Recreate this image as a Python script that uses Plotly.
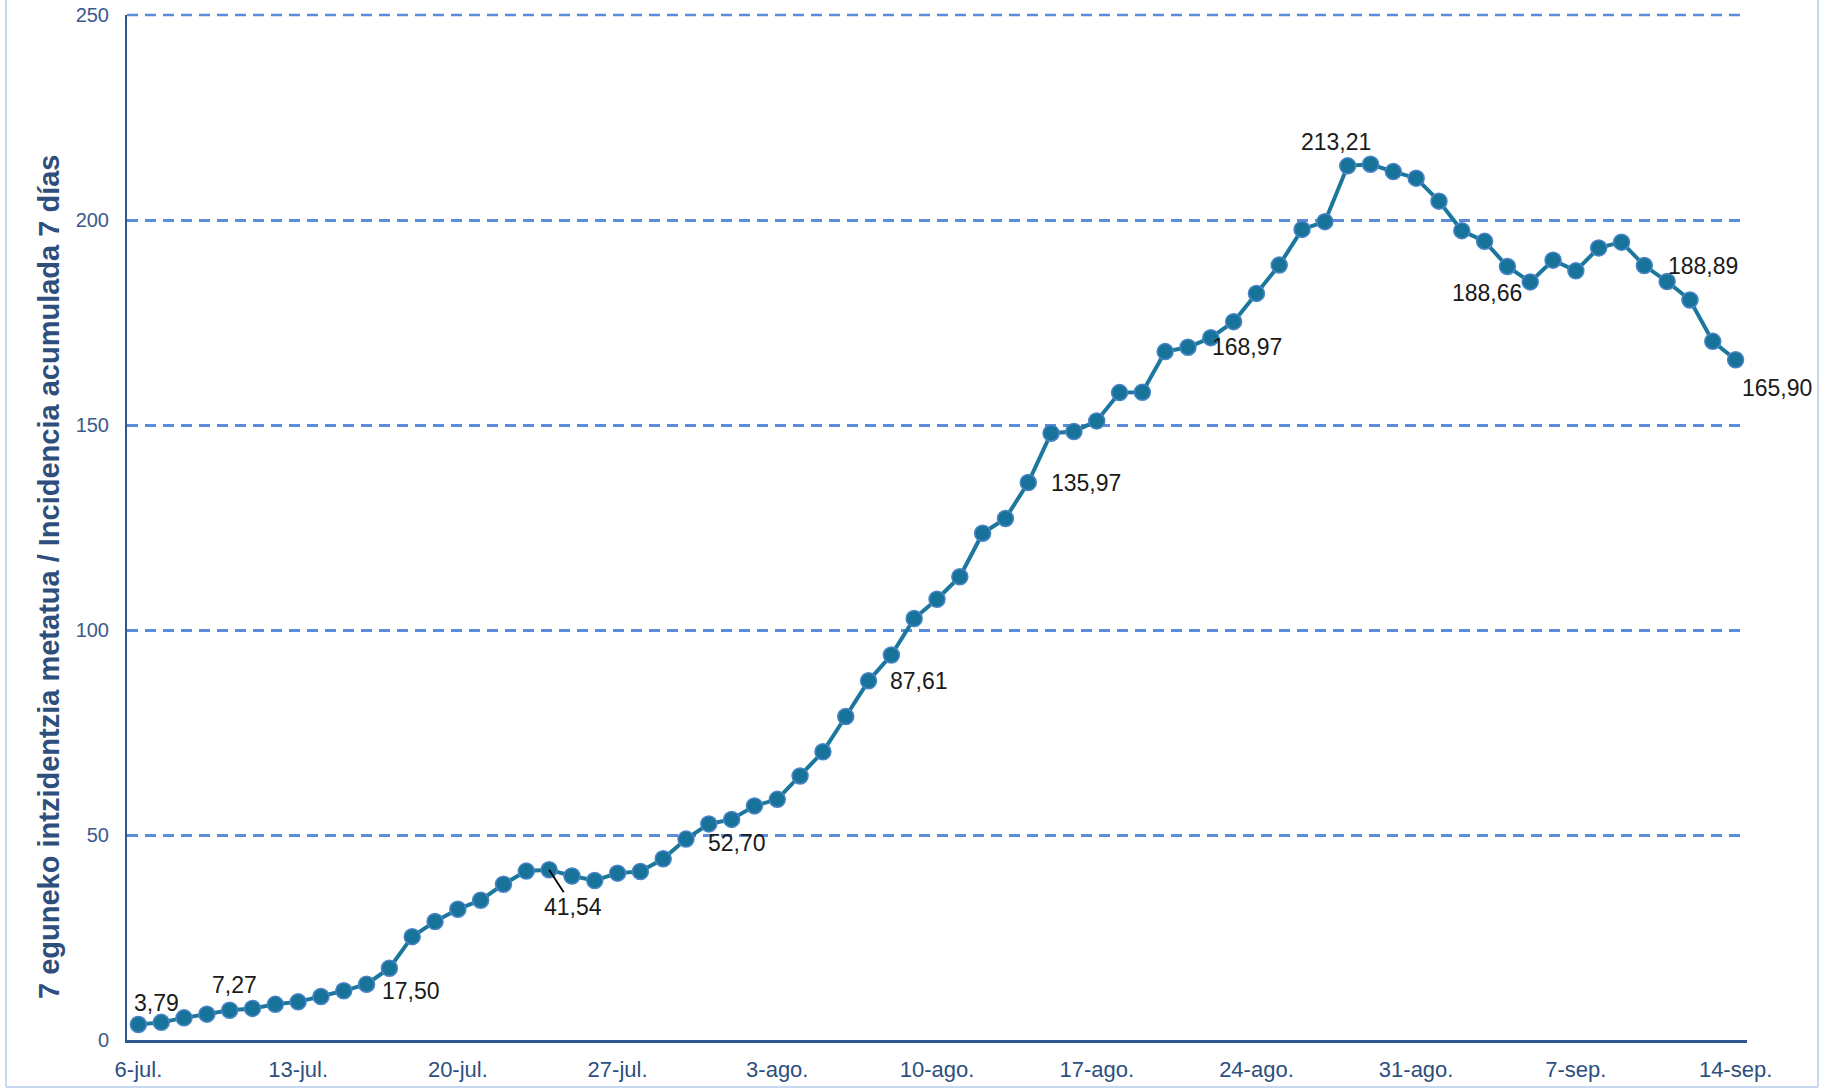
import plotly.graph_objects as go

dates = ["6-jul.", "7-jul.", "8-jul.", "9-jul.", "10-jul.", "11-jul.", "12-jul.",
         "13-jul.", "14-jul.", "15-jul.", "16-jul.", "17-jul.", "18-jul.", "19-jul.",
         "20-jul.", "21-jul.", "22-jul.", "23-jul.", "24-jul.", "25-jul.", "26-jul.",
         "27-jul.", "28-jul.", "29-jul.", "30-jul.", "31-jul.", "1-ago.", "2-ago.",
         "3-ago.", "4-ago.", "5-ago.", "6-ago.", "7-ago.", "8-ago.", "9-ago.",
         "10-ago.", "11-ago.", "12-ago.", "13-ago.", "14-ago.", "15-ago.", "16-ago.",
         "17-ago.", "18-ago.", "19-ago.", "20-ago.", "21-ago.", "22-ago.", "23-ago.",
         "24-ago.", "25-ago.", "26-ago.", "27-ago.", "28-ago.", "29-ago.", "30-ago.",
         "31-ago.", "1-sep.", "2-sep.", "3-sep.", "4-sep.", "5-sep.", "6-sep.",
         "7-sep.", "8-sep.", "9-sep.", "10-sep.", "11-sep.", "12-sep.", "13-sep.",
         "14-sep."]

incidence = [3.79, 4.3, 5.4, 6.3, 7.27, 7.7, 8.7,
             9.3, 10.6, 12.0, 13.6, 17.50, 25.2, 28.9,
             31.9, 34.1, 38.0, 41.2, 41.54, 40.0, 38.9,
             40.7, 41.1, 44.2, 49.0, 52.70, 53.8, 57.1,
             58.7, 64.4, 70.3, 78.9, 87.61, 93.9, 102.8,
             107.5, 113.0, 123.6, 127.2, 135.97, 148.0, 148.4,
             151.0, 157.9, 158.0, 167.9, 168.97, 171.3, 175.2,
             182.1, 189.0, 197.7, 199.6, 213.21, 213.6, 211.8,
             210.2, 204.6, 197.4, 194.8, 188.66, 184.9, 190.2,
             187.6, 193.2, 194.6, 188.89, 185.0, 180.5, 170.4,
             165.90]

tick_labels = ["6-jul.", "13-jul.", "20-jul.", "27-jul.", "3-ago.", "10-ago.",
               "17-ago.", "24-ago.", "31-ago.", "7-sep.", "14-sep."]
y_ticks = [0, 50, 100, 150, 200, 250]

labeled_idx = [0, 4, 11, 18, 25, 32, 39, 46, 53, 60, 66, 70]
label_texts = ["3,79", "7,27", "17,50", "41,54", "52,70", "87,61", "135,97",
               "168,97", "213,21", "188,66", "188,89", "165,90"]
label_dx = [18, 5, 22, 24, 28, 50, 58, 59, -12, -20, 59, 41]
label_dy = [21, 25, -23, -37, -19, 0, 0, 0, 24, -27, 0, -28]

x_idx = list(range(len(dates)))
tick_idx = [dates.index(t) for t in tick_labels]

W, H = 1827, 1089
L, R, T, B = 127, 80, 15, 49
PW, PH = W - L - R, H - T - B

grid_color = "#5A8CDA"

fig = go.Figure()
fig.add_trace(go.Scatter(
    x=x_idx, y=incidence, mode="lines+markers",
    line=dict(color="#1B789C", width=4),
    marker=dict(size=16, color="#18739A", line=dict(color="#4A84C6", width=1.5)),
    text=dates, hoverinfo="text+y", showlegend=False,
))

lab_font = dict(family="Liberation Sans, Arial", size=23, color="#1a1a1a")
for i, t, dx, dy in zip(labeled_idx, label_texts, label_dx, label_dy):
    if t == "41,54":
        fig.add_annotation(x=x_idx[i], y=incidence[i], text=t, showarrow=True,
                           arrowhead=0, arrowwidth=1.8, arrowcolor="#000000",
                           ax=dx, ay=-dy, standoff=0, font=lab_font)
    else:
        fig.add_annotation(x=x_idx[i], y=incidence[i], text=t, showarrow=False,
                           xshift=dx, yshift=dy, font=lab_font)

# y axis title
fig.add_annotation(xref="paper", yref="paper", x=(49 - L) / PW, y=(H - B - 577) / PH,
                   xanchor="center", yanchor="middle",
                   text="<b>7 eguneko intzidentzia metatua / Incidencia acumulada 7 días</b>",
                   textangle=-90, showarrow=False,
                   font=dict(family="Liberation Sans, Arial", size=29, color="#2E4F7E"))

# top gridline at 250
fig.add_shape(type="line", xref="paper", yref="paper", x0=0, x1=1, y0=1, y1=1,
              line=dict(color=grid_color, width=2.5, dash="11px,7px"))

# chart-area border (light blue)
bc = "#C6D9F1"
xl, xr = (6 - L) / PW, (1818 - L) / PW
yb, yt = (H - B - 1087) / PH, (H - B + 5) / PH
fig.add_shape(type="line", xref="paper", yref="paper", x0=xl, x1=xl, y0=yb, y1=yt,
              line=dict(color=bc, width=2))
fig.add_shape(type="line", xref="paper", yref="paper", x0=xr, x1=xr, y0=yb, y1=yt,
              line=dict(color=bc, width=2))
fig.add_shape(type="line", xref="paper", yref="paper", x0=xl, x1=xr, y0=yb, y1=yb,
              line=dict(color=bc, width=2))

fig.update_layout(
    width=W, height=H,
    margin=dict(l=L, r=R, t=T, b=B, autoexpand=False),
    paper_bgcolor="white", plot_bgcolor="white",
    xaxis=dict(range=[-0.5, len(dates) - 0.5], tickmode="array", tickvals=tick_idx,
               ticktext=tick_labels, showgrid=False, zeroline=False, automargin=False,
               showline=True, linecolor="#2F5592", linewidth=3, ticks="",
               ticklabelstandoff=8,
               tickfont=dict(family="Liberation Sans, Arial", size=22, color="#2E4F7E")),
    yaxis=dict(range=[0, 250], tickmode="array", tickvals=y_ticks, automargin=False,
               showgrid=True, gridcolor=grid_color, gridwidth=2.5, griddash="11px,7px",
               zeroline=False, showline=True, linecolor="#2F5592", linewidth=2, ticks="",
               ticklabelstandoff=12,
               tickfont=dict(family="Liberation Sans, Arial", size=20, color="#3A5A8C")),
)

fig.write_html("out.html", config={"displayModeBar": False},
               post_script="document.body.style.margin='0';document.body.style.overflow='hidden';")
